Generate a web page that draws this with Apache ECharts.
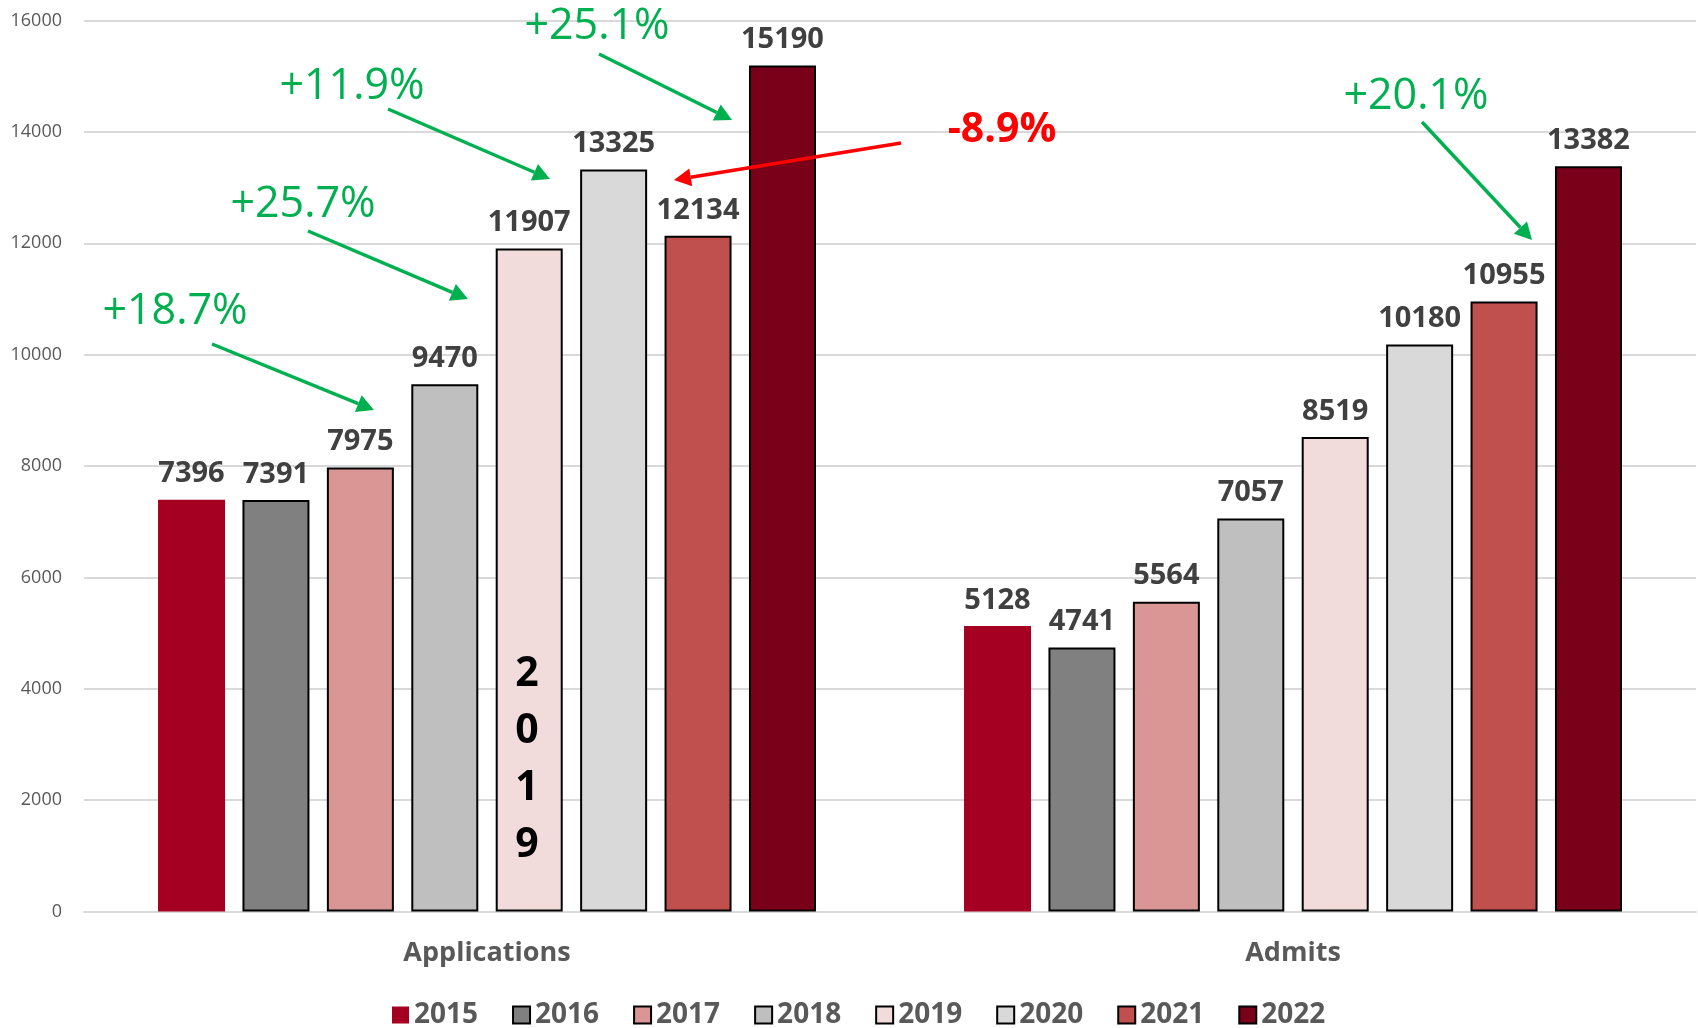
<!DOCTYPE html>
<html>
<head>
<meta charset="utf-8">
<script src="https://cdn.jsdelivr.net/npm/echarts@6/dist/echarts.min.js"></script>
<style>
html,body{margin:0;padding:0;background:#fff;}
#chart{width:1698px;height:1028px;}
</style>
</head>
<body>
<div id="chart"></div>
<script>
const categories = ['Applications', 'Admits'];
const years = ['2015', '2016', '2017', '2018', '2019', '2020', '2021', '2022'];
const v2015 = [7396, 5128];
const v2016 = [7391, 4741];
const v2017 = [7975, 5564];
const v2018 = [9470, 7057];
const v2019 = [11907, 8519];
const v2020 = [13325, 10180];
const v2021 = [12134, 10955];
const v2022 = [15190, 13382];
const yTicks = [0, 2000, 4000, 6000, 8000, 10000, 12000, 14000, 16000];
const annotations = [
  {text: '+18.7%', color: '#00B050', bold: false},
  {text: '+25.7%', color: '#00B050', bold: false},
  {text: '+11.9%', color: '#00B050', bold: false},
  {text: '+25.1%', color: '#00B050', bold: false},
  {text: '-8.9%', color: '#FF0000', bold: true},
  {text: '+20.1%', color: '#00B050', bold: false}
];

const values = [v2015, v2016, v2017, v2018, v2019, v2020, v2021, v2022];
const colors = ['#A50021', '#808080', '#DA9694', '#BFBFBF', '#F2DCDB', '#D9D9D9', '#C0504D', '#7A0019'];
const FONT = '"Open Sans", "Liberation Sans", sans-serif';

const series = years.map((y, i) => ({
  name: y,
  type: 'bar',
  data: values[i],
  barWidth: 67,
  barGap: '26%',
  itemStyle: {
    color: colors[i],
    borderColor: i === 0 ? colors[i] : '#000',
    borderWidth: i === 0 ? 0 : 2
  },
  label: {
    show: true,
    position: 'top',
    distance: 11,
    color: '#404040',
    fontFamily: FONT,
    fontWeight: 'bold',
    fontSize: 29
  }
}));

const chart = echarts.init(document.getElementById('chart'), null, {renderer: 'canvas'});

// annotation layout (pixel positions for text & arrows)
const annLayout = [
  {tx: 175, ty: 312, a: [212, 344, 374, 410]},
  {tx: 303, ty: 205, a: [308, 231, 468, 299]},
  {tx: 352, ty: 87, a: [388, 109, 550, 179]},
  {tx: 597, ty: 27, a: [599, 54, 732, 120]},
  {tx: 1002, ty: 130, a: [901, 143, 674, 180]},
  {tx: 1416, ty: 97, a: [1422, 122, 1532, 240]}
];

function arrow(x1, y1, x2, y2, color) {
  const ang = Math.atan2(y2 - y1, x2 - x1);
  const hl = 17, hw = 9;
  const bx = x2 - hl * Math.cos(ang), by = y2 - hl * Math.sin(ang);
  const px = -Math.sin(ang), py = Math.cos(ang);
  return [
    {type: 'line', shape: {x1: x1, y1: y1, x2: bx, y2: by}, style: {stroke: color, lineWidth: 3.5}, z: 100},
    {type: 'polygon', shape: {points: [[x2, y2], [bx + px * hw, by + py * hw], [bx - px * hw, by - py * hw]]}, style: {fill: color}, z: 100}
  ];
}

const graphics = [];
annotations.forEach((an, i) => {
  const L = annLayout[i];
  graphics.push({
    type: 'text', x: L.tx, y: L.ty, z: 100,
    style: {text: an.text, fill: an.color, font: (an.bold ? 'bold 41px ' : '43px ') + FONT, textAlign: 'center', textVerticalAlign: 'middle'}
  });
  arrow(L.a[0], L.a[1], L.a[2], L.a[3], an.color).forEach(g => graphics.push(g));
});
// vertical "2019" text inside bar
graphics.push({
  type: 'text', x: 527, y: 760, z: 100,
  style: {text: '2\n0\n1\n9', fill: '#000', font: 'bold 41px ' + FONT, lineHeight: 57, textAlign: 'center', textVerticalAlign: 'middle'}
});

chart.setOption({
  animation: false,
  backgroundColor: '#fff',
  grid: {left: 84, right: 2, top: 20.5, bottom: 116.5, containLabel: false},
  legend: {
    data: years,
    top: 996,
    left: 387,
    itemWidth: 17,
    itemHeight: 17,
    itemGap: 34,
    icon: 'rect',
    textStyle: {color: '#595959', fontFamily: FONT, fontWeight: 'bold', fontSize: 28}
  },
  xAxis: {
    type: 'category',
    data: categories,
    axisTick: {show: false},
    axisLine: {lineStyle: {color: '#D9D9D9', width: 2}},
    axisLabel: {color: '#595959', fontFamily: FONT, fontWeight: 'bold', fontSize: 27, margin: 28}
  },
  yAxis: {
    type: 'value',
    min: yTicks[0],
    max: yTicks[yTicks.length - 1],
    interval: 2000,
    axisLine: {show: false},
    axisTick: {show: false},
    splitLine: {lineStyle: {color: '#D9D9D9', width: 2}},
    axisLabel: {color: '#595959', fontFamily: FONT, fontSize: 18, margin: 22, formatter: v => String(v)}
  },
  series: series,
  graphic: graphics
});
</script>
</body>
</html>
